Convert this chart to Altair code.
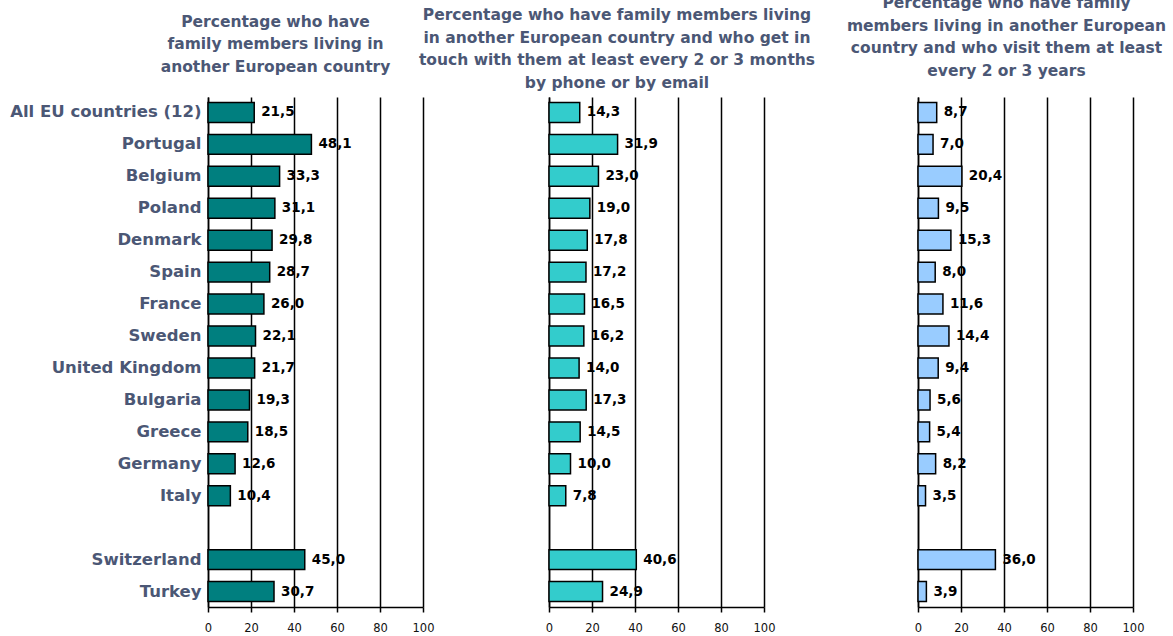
import altair as alt
import pandas as pd

# Country rows, top to bottom; " " is the empty spacer row between EU and non-EU countries
countries = [
    "All EU countries (12)", "Portugal", "Belgium", "Poland", "Denmark", "Spain",
    "France", "Sweden", "United Kingdom", "Bulgaria", "Greece", "Germany", "Italy",
    " ", "Switzerland", "Turkey",
]

# Percentages per panel (None for the spacer row)
family_abroad = [21.5, 48.1, 33.3, 31.1, 29.8, 28.7, 26.0, 22.1, 21.7, 19.3, 18.5, 12.6, 10.4, None, 45.0, 30.7]
contact_phone_email = [14.3, 31.9, 23.0, 19.0, 17.8, 17.2, 16.5, 16.2, 14.0, 17.3, 14.5, 10.0, 7.8, None, 40.6, 24.9]
visit_2_3_years = [8.7, 7.0, 20.4, 9.5, 15.3, 8.0, 11.6, 14.4, 9.4, 5.6, 5.4, 8.2, 3.5, None, 36.0, 3.9]

titles = [
    ["Percentage who have", "family members living in", "another European country"],
    ["Percentage who have family members living", "in another European country and who get in",
     "touch with them at least every 2 or 3 months", "by phone or by email"],
    ["Percentage who have family", "members living in another European",
     "country and who visit them at least", "every 2 or 3 years"],
]
colors = ["#007f7f", "#33cccc", "#99ccff"]
x_ticks = [0, 20, 40, 60, 80, 100]

TEXT_COLOR = "#4b5775"
FONT = "DejaVu Sans"


def panel(values, title_lines, color, left_extent, show_labels, title_dx, title_offset):
    rows = [(c, v) for c, v in zip(countries, values) if v is not None]
    df = pd.DataFrame(rows, columns=["country", "value"])
    df["label"] = df["value"].map(lambda v: f"{v:.1f}".replace(".", ","))

    y_axis = alt.Axis(
        title=None,
        ticks=False,
        labels=show_labels,
        labelFont=FONT,
        labelFontWeight="bold",
        labelFontSize=16.5,
        labelColor=TEXT_COLOR,
        labelPadding=7,
        labelLimit=300,
        domainColor="black",
        domainWidth=1.5,
        minExtent=left_extent,
    )
    y = alt.Y("country:N", sort=countries,
              scale=alt.Scale(domain=countries, paddingInner=0.375, paddingOuter=0.17),
              axis=y_axis)
    x = alt.X("value:Q",
              scale=alt.Scale(domain=[0, 100], nice=False),
              axis=alt.Axis(
                  title=None, values=x_ticks, grid=True, gridColor="black", gridWidth=1.5,
                  gridOpacity=1, domainColor="black", domainWidth=1.5, tickColor="black",
                  tickWidth=1.5, tickSize=5, labelFont=FONT, labelFontSize=11.5,
                  labelColor="#111111", labelPadding=10, labelFlush=False,
              ))

    base = alt.Chart(df)
    bars = base.mark_bar(color=color, stroke="black", strokeWidth=1.5).encode(x=x, y=y)
    text = base.mark_text(
        align="left", baseline="middle", dx=7, font=FONT, fontWeight="bold",
        fontSize=13.5, color="black",
    ).encode(x="value:Q", y=alt.Y("country:N", sort=countries), text="label:N")

    return alt.layer(bars, text).properties(
        width=215,
        height=510,
        title=alt.TitleParams(
            text=title_lines, font=FONT, fontSize=15.5, fontWeight="bold",
            color=TEXT_COLOR, lineHeight=22.5, anchor="middle", dx=title_dx,
            offset=title_offset,
        ),
    )


p1 = panel(family_abroad, titles[0], colors[0], 208, True, -40, 22)
p2 = panel(contact_phone_email, titles[1], colors[1], 0, False, -39.5, 6)
p3 = panel(visit_2_3_years, titles[2], colors[2], 101.5, False, -19, 18)

# First two panels are spaced by their plot areas; the third follows the second's title
left_pair = alt.hconcat(p1, p2, spacing=126, bounds="flush")

chart = (
    alt.hconcat(left_pair, p3, spacing=0)
    .properties(padding={"left": 0, "top": -4, "right": 0, "bottom": 0})
    .configure_view(stroke=None)
)

chart.save("out.html", embed_options={"renderer": "svg", "actions": False})
